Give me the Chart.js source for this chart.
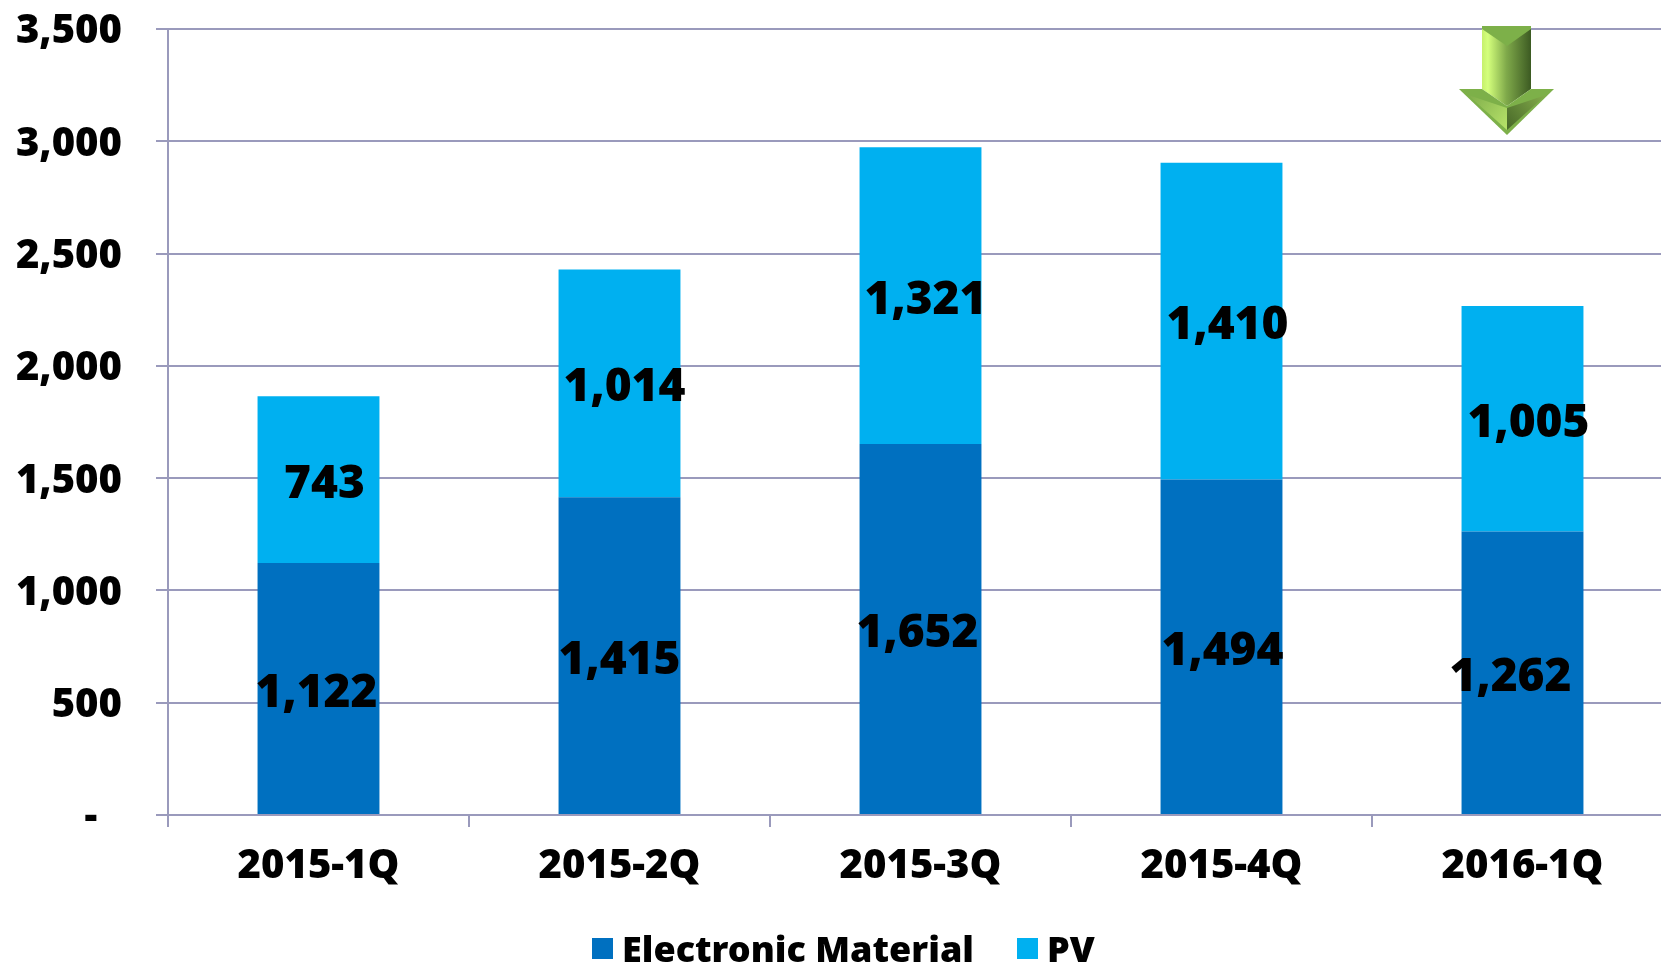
<!DOCTYPE html>
<html>
<head>
<meta charset="utf-8">
<script src="https://cdn.jsdelivr.net/npm/chart.js@4"></script>
<style>
html, body { margin: 0; padding: 0; background: #fff; overflow: hidden; width: 1661px; height: 964px; }
#wrap { position: relative; width: 1661px; height: 964px; overflow: hidden; }
#chartCanvas { position: absolute; left: 0; top: 0; }
#legend { position: absolute; left: 592px; top: 922px; display: flex; align-items: center; height: 52px;
    font: 900 36px "Noto Sans", sans-serif; color: #000; white-space: nowrap; }
#legend i { display: inline-block; width: 21px; height: 21px; margin-right: 9px; }
#legend span { margin-right: 43px; }
</style>
</head>
<body>
<div id="wrap">
    <canvas id="chartCanvas" width="1688" height="964" style="width:1688px;height:964px"></canvas>
    <div id="legend"></div>
</div>
<script>
const categories = ['2015-1Q', '2015-2Q', '2015-3Q', '2015-4Q', '2016-1Q'];
const electronicMaterial = [1122, 1415, 1652, 1494, 1262];
const pv = [743, 1014, 1321, 1410, 1005];
const seriesNames = ['Electronic Material', 'PV'];

// data labels were moved by hand in the original, so nudge them per bar
const labelNudgeX = [[-2, 0, -3, 1, -12], [6, 5, 5, 6, 6]];
const FONT = '"Noto Sans", sans-serif';
const GRID = '#9a9abc';

const fmt = v => v === 0 ? '-\u00a0\u00a0\u200a' : v.toLocaleString('en-US');

const barLabels = {
    id: 'barLabels',
    afterDatasetsDraw(chart) {
        const c = chart.ctx;
        c.save();
        c.font = '900 46px ' + FONT;
        c.fillStyle = '#000';
        c.textAlign = 'center';
        c.textBaseline = 'middle';
        chart.data.datasets.forEach((ds, i) => {
            chart.getDatasetMeta(i).data.forEach((bar, j) => {
                const mid = (bar.y + bar.base) / 2;
                c.fillText(fmt(ds.data[j]), bar.x + labelNudgeX[i][j], mid + 5);
            });
        });
        c.restore();
    }
};

// green block arrow in the top right corner
const arrow = {
    id: 'arrow',
    afterDraw(chart) {
        const c = chart.ctx;
        const poly = (pts, fill) => {
            c.beginPath();
            pts.forEach((p, i) => i ? c.lineTo(p[0], p[1]) : c.moveTo(p[0], p[1]));
            c.closePath();
            c.fillStyle = fill;
            c.fill();
        };
        const shaft = c.createLinearGradient(1482, 0, 1531, 0);
        shaft.addColorStop(0, '#c6f06c');
        shaft.addColorStop(0.12, '#d4ff7c');
        shaft.addColorStop(0.5, '#7fa94a');
        shaft.addColorStop(1, '#3c5a22');
        poly([[1482, 26], [1531, 26], [1531, 89], [1507, 106], [1482, 89]], shaft);
        poly([[1482, 26], [1531, 26], [1531, 29], [1507, 46], [1482, 29]], '#7db049');
        poly([[1459, 89], [1482, 89], [1507, 106], [1507, 135]], '#7db049');
        poly([[1554, 89], [1531, 89], [1507, 106], [1507, 135]], '#7db049');
        const left = c.createLinearGradient(1465, 92, 1507, 125);
        left.addColorStop(0, '#7aa848');
        left.addColorStop(1, '#b4e068');
        poly([[1468, 95], [1507, 108], [1507, 130]], left);
        const right = c.createLinearGradient(1548, 92, 1507, 125);
        right.addColorStop(0, '#8ab34e');
        right.addColorStop(1, '#4a6b2a');
        poly([[1546, 95], [1507, 108], [1507, 130]], right);
    }
};

const ctx = document.getElementById('chartCanvas').getContext('2d');
const chartInstance = new Chart(ctx, {
    type: 'bar',
    data: {
        labels: categories,
        datasets: [
            { label: seriesNames[0], data: electronicMaterial, backgroundColor: '#0070c0' },
            { label: seriesNames[1], data: pv, backgroundColor: '#00b0f0' }
        ]
    },
    options: {
        responsive: false,
        animation: false,
        layout: { padding: { top: 29, right: 15, left: 0, bottom: 0 } },
        datasets: { bar: { barPercentage: 1, categoryPercentage: 0.405 } },
        plugins: { legend: { display: false }, tooltip: { enabled: false } },
        scales: {
            x: {
                stacked: true,
                afterFit: s => { s.height = 149; },
                grid: { drawOnChartArea: false, color: GRID, lineWidth: 2, tickLength: 12 },
                border: { color: GRID, width: 2 },
                ticks: { color: '#000', font: { family: FONT, weight: '900', size: 40 }, maxRotation: 0, padding: 16 }
            },
            y: {
                stacked: true,
                min: 0,
                max: 3500,
                // tick padding would otherwise push the plot top down
                afterFit: s => { s.width = 168; s.paddingTop = 0; s.paddingBottom = 0; },
                grid: { color: GRID, lineWidth: 2, tickLength: 12 },
                border: { color: GRID, width: 2 },
                ticks: {
                    stepSize: 500,
                    color: '#000',
                    padding: 34,
                    labelOffset: c => (c.tick && c.tick.value === 0) ? 1 : 3,
                    font: { family: FONT, weight: '900', size: 40 },
                    callback: fmt
                }
            }
        }
    },
    plugins: [barLabels, arrow]
});

const legendEl = document.getElementById('legend');
chartInstance.data.datasets.forEach(ds => {
    const box = document.createElement('i');
    box.style.background = ds.backgroundColor;
    const txt = document.createElement('span');
    txt.textContent = ds.label;
    legendEl.append(box, txt);
});
</script>
</body>
</html>
